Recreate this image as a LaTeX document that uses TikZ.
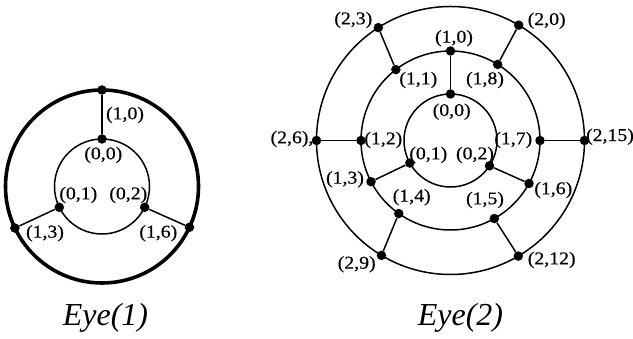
\documentclass[tikz,border=0pt]{standalone}
\usepackage{fontspec}
\setmainfont{Liberation Serif}
\newfontfamily\labfont[FakeStretch=1.1,FakeBold=0.4]{Liberation Serif}
\usetikzlibrary{calc}
\begin{document}
\begin{tikzpicture}[x=1pt,y=1pt,
  dot/.style={circle,fill=black,inner sep=0pt,minimum size=9.5pt},
  lab/.style={inner sep=0pt,font=\labfont\fontsize{18}{18}\selectfont},
  title/.style={inner sep=0pt,font=\fontsize{32}{32}\selectfont\itshape},
  ring/.style={line width=1.5pt},
  thickring/.style={line width=3.6pt},
  spoke/.style={line width=1.5pt}]
\useasboundingbox (0,0) rectangle (633,339);
% ---------- Eye(1) ----------
\coordinate (c1) at (102,152.5);
\draw[thickring] (c1) circle (96.5);
\draw[ring] (c1) circle (47.5);
\node[dot] (a10) at ($(c1)+(90:96.5)$) {};
\node[dot] (a13) at ($(c1)+(205.5:96.5)$) {};
\node[dot] (a16) at ($(c1)+(-25:96.5)$) {};
\node[dot] (a00) at ($(c1)+(90:47.5)$) {};
\node[dot] (a01) at ($(c1)+(206:47.5)$) {};
\node[dot] (a02) at ($(c1)+(-26:47.5)$) {};
\draw[spoke] (a00) -- (a10);
\draw[spoke] (a01) -- (a13);
\draw[spoke] (a02) -- (a16);
\node[lab] (la10) at (125,224) {(1,0)};
\node[lab] (la00) at (103.3,184) {(0,0)};
\node[lab] (la01) at (78.3,144) {(0,1)};
\node[lab] (la02) at (128.3,144) {(0,2)};
\node[lab] (la13) at (45,105.7) {(1,3)};
\node[lab] (la16) at (158.3,105.7) {(1,6)};
\node[title] (t1) at (105.5,21) {Eye(1)};
% ---------- Eye(2) ----------
\coordinate (c2) at (450.5,198.5);
\draw[ring] (c2) circle (46.5);
\draw[ring] (c2) circle (89.5);
\draw[ring] (c2) circle (134);
\node[dot] (b00) at ($(c2)+(90:46.5)$) {};
\node[dot] (b01) at ($(c2)+(209:46.5)$) {};
\node[dot] (b02) at ($(c2)+(-33:46.5)$) {};
\node[dot] (b10) at ($(c2)+(90:89.5)$) {};
\node[dot] (b11) at ($(c2)+(127.6:89.5)$) {};
\node[dot] (b18) at ($(c2)+(58.2:89.5)$) {};
\node[dot] (b12) at ($(c2)+(180:89.5)$) {};
\node[dot] (b17) at ($(c2)+(0:89.5)$) {};
\node[dot] (b13) at ($(c2)+(207.4:89.5)$) {};
\node[dot] (b16) at ($(c2)+(-28.7:89.5)$) {};
\node[dot] (b14) at ($(c2)+(234.7:89.5)$) {};
\node[dot] (b15) at ($(c2)+(-60.7:89.5)$) {};
\node[dot] (b23) at ($(c2)+(122.6:134)$) {};
\node[dot] (b20) at ($(c2)+(59.4:134)$) {};
\node[dot] (b26) at ($(c2)+(180:134)$) {};
\node[dot] (b215) at ($(c2)+(0:134)$) {};
\node[dot] (b29) at ($(c2)+(239:134)$) {};
\node[dot] (b212) at ($(c2)+(-59.6:134)$) {};
\draw[spoke] (b00) -- (b10);
\draw[spoke] (b01) -- (b13);
\draw[spoke] (b02) -- (b16);
\draw[spoke] (b11) -- (b23);
\draw[spoke] (b18) -- (b20);
\draw[spoke] (b12) -- (b26);
\draw[spoke] (b17) -- (b215);
\draw[spoke] (b14) -- (b29);
\draw[spoke] (b15) -- (b212);
\node[lab] (lb00) at (451.7,227.3) {(0,0)};
\node[lab] (lb10) at (454,300.7) {(1,0)};
\node[lab] (lb11) at (418.3,259) {(1,1)};
\node[lab] (lb18) at (485,259) {(1,8)};
\node[lab] (lb23) at (353.3,319) {(2,3)};
\node[lab] (lb20) at (546.7,318.3) {(2,0)};
\node[lab] (lb26) at (292,200) {(2,6),};
\node[lab] (lb12) at (383.3,199) {(1,2)};
\node[lab] (lb01) at (428.3,184) {(0,1)};
\node[lab] (lb02) at (475,184) {(0,2)};
\node[lab] (lb17) at (513.3,199) {(1,7)};
\node[lab] (lb215) at (610,202.3) {(2,15)};
\node[lab] (lb13) at (345,159.7) {(1,3)};
\node[lab] (lb16) at (553.3,149) {(1,6)};
\node[lab] (lb14) at (411.7,141.7) {(1,4)};
\node[lab] (lb15) at (485,139) {(1,5)};
\node[lab] (lb29) at (356.7,74.7) {(2,9)};
\node[lab] (lb212) at (551.7,79) {(2,12)};
\node[title] (t2) at (460.5,21) {Eye(2)};
\end{tikzpicture}
\end{document}
